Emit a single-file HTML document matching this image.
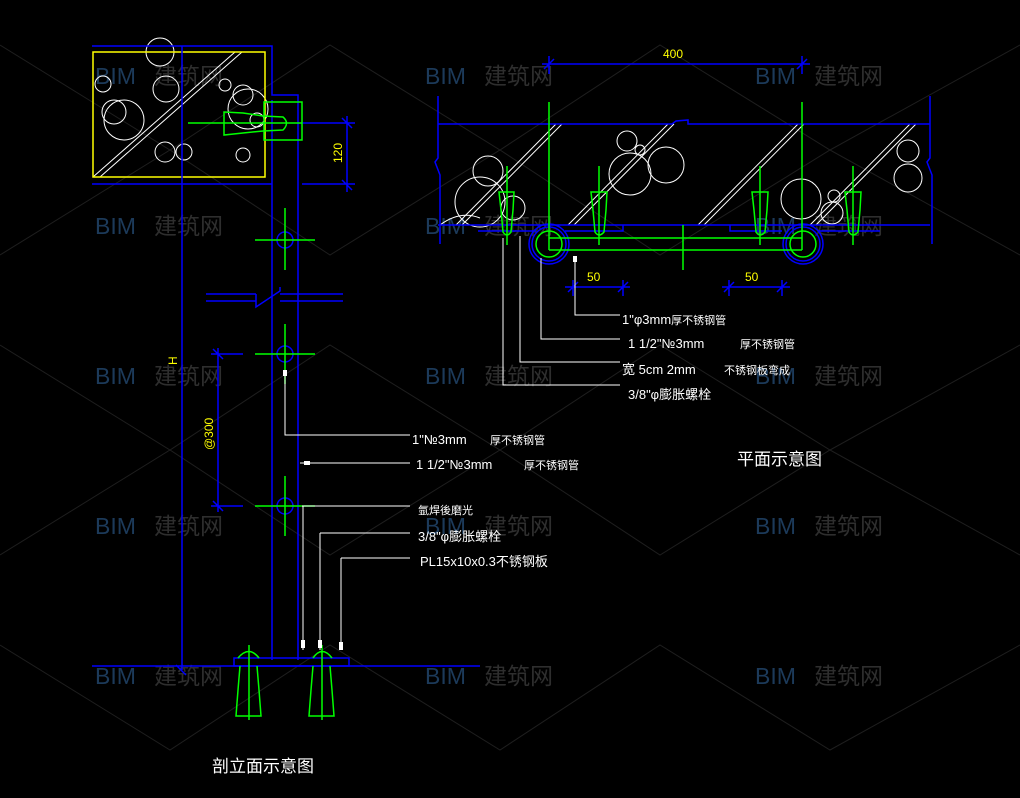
<!DOCTYPE html>
<html><head><meta charset="utf-8"><style>
html,body{margin:0;padding:0;background:#000;width:1020px;height:798px;overflow:hidden}
svg{display:block}
text{font-family:"Liberation Sans","Noto Sans CJK SC",sans-serif}
</style></head><body>
<svg width="1020" height="798" viewBox="0 0 1020 798" xmlns="http://www.w3.org/2000/svg">
<rect width="1020" height="798" fill="#000"/>
<!-- faint diagonal background lines -->
<g stroke="#1e1e1e" stroke-width="1">
<path d="M0 45 L170 150 L330 45 L500 150 L660 45 L830 150 L1020 45"/>
<path d="M0 255 L170 150 L330 255 L500 150 L660 255 L830 150 L1020 255"/>
<path d="M0 345 L170 450 L330 345 L500 450 L660 345 L830 450 L1020 345"/>
<path d="M0 555 L170 450 L330 555 L500 450 L660 555 L830 450 L1020 555"/>
<path d="M0 645 L170 750 L330 645 L500 750 L660 645 L830 750 L1020 645"/>
</g>
<!-- watermarks -->
<g font-size="23">
<g fill="#1c3a5a" font-family="Liberation Sans,sans-serif">
<text x="95" y="84">BIM</text><text x="425" y="84">BIM</text><text x="755" y="84">BIM</text>
<text x="95" y="234">BIM</text><text x="425" y="234">BIM</text><text x="755" y="234">BIM</text>
<text x="95" y="384">BIM</text><text x="425" y="384">BIM</text><text x="755" y="384">BIM</text>
<text x="95" y="534">BIM</text><text x="425" y="534">BIM</text><text x="755" y="534">BIM</text>
<text x="95" y="684">BIM</text><text x="425" y="684">BIM</text><text x="755" y="684">BIM</text>
</g>
<g fill="#2e2e2e">
<text x="154" y="84">建筑网</text><text x="484" y="84">建筑网</text><text x="814" y="84">建筑网</text>
<text x="154" y="234">建筑网</text><text x="484" y="234">建筑网</text><text x="814" y="234">建筑网</text>
<text x="154" y="384">建筑网</text><text x="484" y="384">建筑网</text><text x="814" y="384">建筑网</text>
<text x="154" y="534">建筑网</text><text x="484" y="534">建筑网</text><text x="814" y="534">建筑网</text>
<text x="154" y="684">建筑网</text><text x="484" y="684">建筑网</text><text x="814" y="684">建筑网</text>
</g></g>

<!-- ===== LEFT: section elevation ===== -->
<g fill="none" stroke-width="1.5">
<g stroke="#fff" stroke-width="1">
<circle cx="160" cy="52" r="14"/><circle cx="103" cy="84" r="8"/>
<circle cx="166" cy="89" r="13"/><circle cx="124" cy="120" r="20"/><circle cx="114" cy="112" r="12"/>
<circle cx="225" cy="85" r="6"/><circle cx="243" cy="95" r="10"/><circle cx="248" cy="109" r="20"/>
<circle cx="165" cy="152" r="10"/><circle cx="184" cy="152" r="8"/><circle cx="243" cy="155" r="7"/>
<circle cx="257" cy="120" r="7"/>
<path d="M93 177 L235 52 M100 177 L242 52"/>
</g>
<rect x="93" y="52" width="172" height="125" stroke="#ff0"/>
<g stroke="#00f">
<path d="M92 46 H272 V95 H298 V660"/>
<path d="M272 100 V660"/>
<path d="M92 184 H272"/>
<path d="M182 46 V670"/>
<path d="M206 294 H256 M206 301 H256 L256 307 L280 291 L280 287 M280 294 H343 M280 301 H343 M256 301 V294"/>
<path d="M302 123 H355 M302 184 H355 M347 116 V192 M342 118 L352 128 M342 180 L352 190"/>
<path d="M211 354 H243 M211 506 H243 M218 348 V512 M213 349 L223 359 M213 501 L223 511"/>
<path d="M176 665 L186 675"/>
<path d="M92 666 H480"/>
<rect x="234" y="658" width="115" height="8"/>
<circle cx="285" cy="240" r="8"/><circle cx="285" cy="354" r="8"/><circle cx="285" cy="506" r="8"/>
</g>
<g stroke="#0f0">
<rect x="264" y="102" width="38" height="38"/>
<path d="M224 112 L243 113 L263 116 L283 117 Q290 123 283 130 L263 131 L243 133 L224 135 Z"/>
<path d="M188 123 H302"/>
<path d="M255 240 H315 M285 208 V270 M255 354 H315 M285 324 V384 M255 506 H315 M285 476 V536"/>
<path d="M240 666 L238 690 L236 716 H261 L259 690 L257 666 M249 645 V720 M238 658 Q249 645 259 658"/>
<path d="M313 666 L311 690 L309 716 H334 L332 690 L330 666 M322 645 V720 M313 658 Q322 645 332 658"/>
</g>
<g stroke="#fff" stroke-width="1">
<path d="M285 372 V435 H410"/><path d="M300 463 H410"/>
<path d="M302 506 H410 M303 506 V650"/>
<path d="M320 533 H410 M320 533 V650"/>
<path d="M341 558 H410 M341 558 V650"/>
</g>
</g>
<g fill="#fff"><rect x="283" y="370" width="4" height="6"/><rect x="304" y="461" width="6" height="4"/>
<rect x="301" y="640" width="4" height="8"/><rect x="318" y="640" width="4" height="8"/><rect x="339" y="642" width="4" height="8"/></g>
<g fill="#ff0" font-size="12">
<text transform="translate(342,163) rotate(-90)">120</text>
<text transform="translate(177,365) rotate(-90)">H</text>
<text transform="translate(213,450) rotate(-90)">@300</text>
</g>
<g fill="#fff" font-size="13">
<text x="412" y="444">1"№3mm</text><text x="490" y="444" font-size="11">厚不锈钢管</text>
<text x="416" y="469">1 1/2"№3mm</text><text x="524" y="469" font-size="11">厚不锈钢管</text>
<text x="418" y="514" font-size="11">氩焊後磨光</text>
<text x="418" y="541">3/8"φ膨胀螺栓</text>
<text x="420" y="566">PL15x10x0.3不锈钢板</text>
<text x="212" y="772" font-size="17">剖立面示意图</text>
</g>

<!-- ===== RIGHT: plan ===== -->
<g fill="none" stroke-width="1.5">
<g stroke="#fff" stroke-width="1">
<path d="M456 225 L556 124 M462 225 L562 124 M568 225 L668 124 M574 225 L674 124 M698 225 L798 124 M704 225 L804 124 M810 225 L910 124 M816 225 L916 124"/>
<circle cx="488" cy="171" r="15"/><circle cx="480" cy="202" r="25"/><circle cx="513" cy="208" r="12"/>
<circle cx="627" cy="141" r="10"/><circle cx="640" cy="150" r="5"/><circle cx="630" cy="174" r="21"/><circle cx="666" cy="165" r="18"/>
<circle cx="801" cy="199" r="20"/><circle cx="834" cy="196" r="6"/><circle cx="832" cy="213" r="11"/>
<circle cx="908" cy="151" r="11"/><circle cx="908" cy="178" r="14"/>
<path d="M440 225 Q460 210 480 218"/>
</g>
<g stroke="#00f">
<path d="M438 96 V158 L435 162 L440 175 V244"/>
<path d="M930 96 V158 L927 162 L932 175 V244"/>
<path d="M438 124 H672 L676 121 L688 120 V124 H930"/>
<path d="M438 225 H930"/>
<path d="M478 231 H536 M565 231 H623 V225 M730 225 V231 H782 M818 231 H880"/>
<path d="M542 64 H810 M549 56 V74 M802 56 V74 M544 69 L554 59 M797 69 L807 59"/>
<path d="M565 287 H630 M573 280 V296 M623 280 V296 M568 292 L578 282 M618 292 L628 282"/>
<path d="M722 287 H790 M729 280 V296 M782 280 V296 M724 292 L734 282 M777 292 L787 282"/>
<circle cx="549" cy="244" r="20"/><circle cx="549" cy="244" r="17"/>
<circle cx="803" cy="244" r="20"/><circle cx="803" cy="244" r="17"/>
</g>
<g stroke="#0f0">
<path d="M549 102 V250 M802 102 V250 M549 238 H802 M549 250 H802 M683 225 V270"/>
<circle cx="549" cy="244" r="13"/><circle cx="803" cy="244" r="13"/>
<path d="M507 166 V245 M499 192 H514 L513 210 L511 232 Q507 238 503 232 L501 210 Z"/>
<path d="M599 166 V245 M591 192 H607 L606 210 L604 232 Q599 238 595 232 L593 210 Z"/>
<path d="M760 166 V245 M752 192 H768 L767 210 L765 232 Q760 238 756 232 L754 210 Z"/>
<path d="M853 166 V245 M845 192 H861 L860 210 L858 232 Q853 238 849 232 L847 210 Z"/>
</g>
<g stroke="#fff" stroke-width="1">
<path d="M575 258 V315 H620"/>
<path d="M541 258 V339 H620"/>
<path d="M520 236 V362 H620"/>
<path d="M503 238 V385 H620"/>
</g>
</g>
<g fill="#fff"><rect x="573" y="256" width="4" height="6"/></g>
<g fill="#ff0" font-size="12">
<text x="663" y="58">400</text><text x="587" y="281">50</text><text x="745" y="281">50</text>
</g>
<g fill="#fff" font-size="13">
<text x="622" y="324">1"φ3mm<tspan font-size="11">厚不锈钢管</tspan></text>
<text x="628" y="348">1 1/2"№3mm</text><text x="740" y="348" font-size="11">厚不锈钢管</text>
<text x="622" y="374">宽 5cm  2mm</text><text x="724" y="374" font-size="11">不锈钢板弯成</text>
<text x="628" y="399">3/8"φ膨胀螺栓</text>
<text x="737" y="465" font-size="17">平面示意图</text>
</g>
</svg>
</body></html>
